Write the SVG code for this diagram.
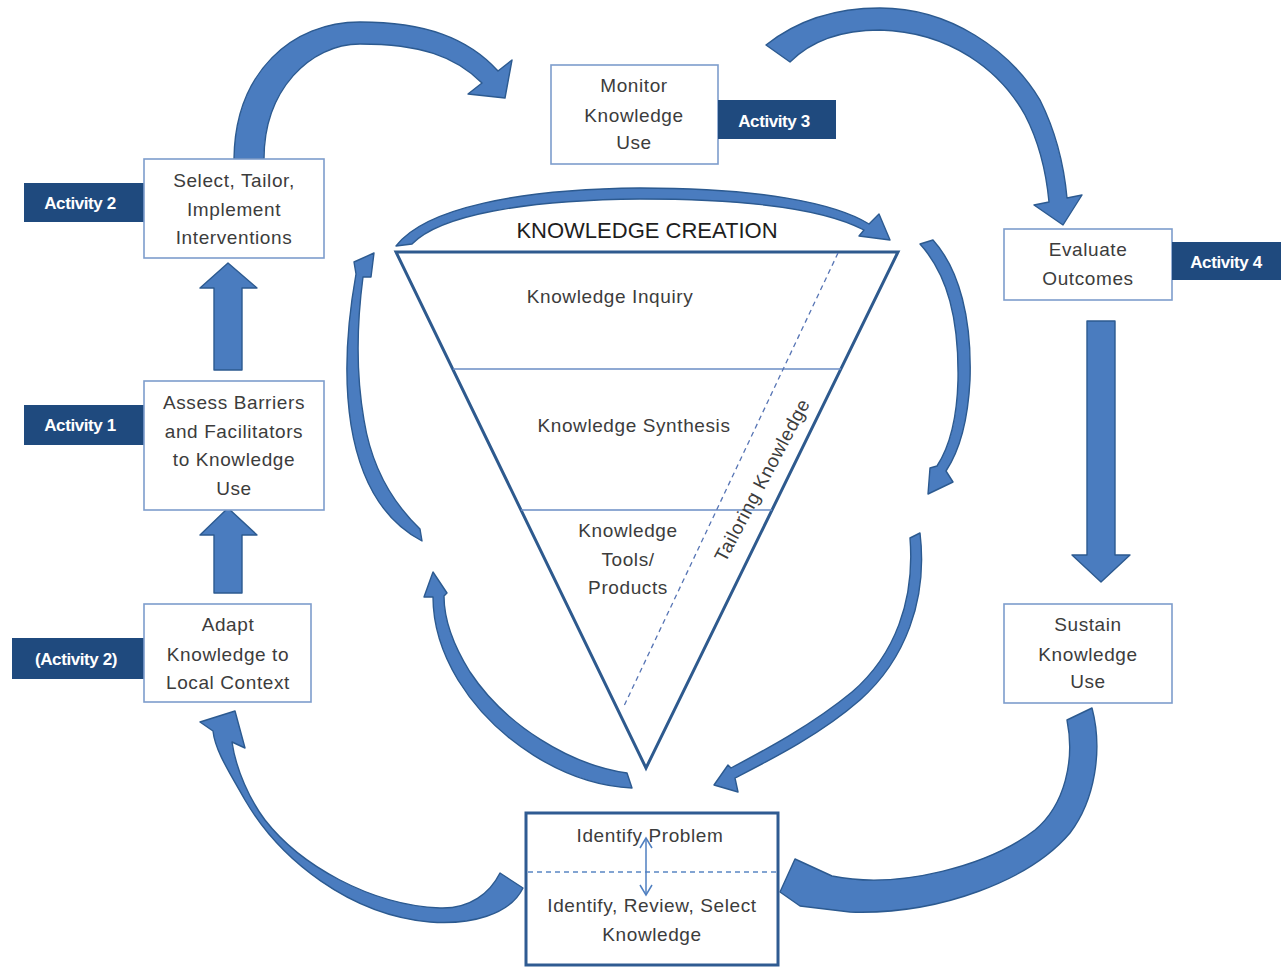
<svg xmlns="http://www.w3.org/2000/svg" width="1281" height="968" viewBox="0 0 1281 968">
<defs>
<style>
.bg{fill:#ffffff}
.box{fill:#ffffff;stroke:#7d9dcc;stroke-width:1.6}
.box2{fill:#ffffff;stroke:#2f5b92;stroke-width:3}
.act{fill:#1f4a7e}
.acttxt{fill:#ffffff;font-family:"Liberation Sans",Arial,sans-serif;font-weight:bold;font-size:17px;letter-spacing:-0.4px;text-anchor:middle}
.txt{fill:#3c3c3c;font-family:"Liberation Sans",Arial,sans-serif;font-size:19px;letter-spacing:0.6px;text-anchor:middle}
.title{fill:#1e1e1e;font-family:"Liberation Sans",Arial,sans-serif;font-size:22px;text-anchor:middle}
.arrow{fill:#4a7cbf;stroke:#2c5a90;stroke-width:1.4;stroke-linejoin:round}
.tri{fill:#ffffff;stroke:#2e5a8e;stroke-width:3;stroke-linejoin:miter}
.band{stroke:#6a8cc4;stroke-width:1.5;fill:none}
.dash{stroke:#5674b4;stroke-width:1.3;fill:none;stroke-dasharray:5 4}
.dbl{stroke:#4f7fc0;stroke-width:1.5;fill:none}
</style>
</defs>
<rect class="bg" x="0" y="0" width="1281" height="968"/>

<g id="connectors">
  <!-- Select -> Monitor -->
  <path class="arrow" d="M234,159 C235,72 292,22 360,22 C425,22 468,38 498,71 L512,60 L505,98 L468,94 L482,83 C455,56 420,44 360,44 C310,44 264,90 264,159 Z"/>
  <!-- Monitor -> Evaluate -->
  <path class="arrow" d="M766,45 C800,18 840,8 880,8 C950,8 1010,50 1040,100 C1055,130 1064,165 1067,198 L1082,195 L1063,225 L1034,205 L1049,202 C1046,170 1038,140 1025,115 C1000,70 950,32 880,30 C840,30 810,42 790,62 Z"/>
  <!-- Evaluate -> Sustain -->
  <path class="arrow" d="M1087,321 L1115,321 L1115,555 L1130,555 L1101,582 L1072,555 L1087,555 Z"/>
  <!-- Sustain -> Identify -->
  <path class="arrow" d="M1067,720 L1092,708 C1103,750 1095,800 1070,833 C1030,880 940,915 850,912 L800,906 L780,892 L795,859 L832,876 C900,890 990,865 1035,830 C1065,805 1075,760 1067,720 Z"/>
  <!-- Identify -> Adapt -->
  <path class="arrow" d="M500,873 L523,888 C510,915 470,925 430,922 C350,915 280,860 245,800 C228,770 215,750 213,731 L200,722 L235,711 L245,748 L232,742 C236,770 250,800 265,820 C300,865 370,905 440,908 C470,909 490,893 500,873 Z"/>
  <!-- Adapt -> Assess -->
  <path class="arrow" d="M214,593 L242,593 L242,535 L257,535 L228,508 L200,535 L214,535 Z"/>
  <!-- Assess -> Select -->
  <path class="arrow" d="M214,370 L242,370 L242,288 L257,288 L228,263 L200,288 L214,288 Z"/>

  <!-- inner cycle around knowledge creation -->
  <path class="arrow" d="M396,246 C425,208 520,189 640,188 C760,188 835,203 869,224 L879,214 L890,240 L859,236 L864,230 C830,212 760,199 640,199 C525,200 440,215 412,244 Z"/>
  <path class="arrow" d="M920,244 L933,240 C960,270 972,320 970,380 C968,420 960,450 946,471 L953,482 L928,494 L930,468 L937,466 C950,446 957,420 958,380 C959,320 948,275 920,244 Z"/>
  <path class="arrow" d="M910,538 L920,533 C928,600 905,660 860,700 C820,735 770,760 735,778 L738,792 L714,785 L728,765 L731,768 C765,750 812,725 852,692 C895,655 915,600 910,538 Z"/>
  <path class="arrow" d="M632,788 L627,773 C570,765 505,725 470,672 C450,640 444,615 444,596 L447,593 L433,572 L424,597 L433,597 C433,620 440,650 458,680 C495,740 565,785 632,788 Z"/>
  <path class="arrow" d="M422,541 L420,529 C395,505 372,470 364,420 C357,380 356,330 363,277 L371,277 L374,253 L354,262 L356,274 C346,330 344,380 351,425 C360,480 382,520 422,541 Z"/>
</g>

<g id="knowledge-creation">
  <polygon class="tri" points="396,252 898,252 646,768"/>
  <line class="band" x1="453" y1="369" x2="841" y2="369"/>
  <line class="band" x1="521" y1="510" x2="772" y2="510"/>
  <line class="dash" x1="838" y1="253" x2="624" y2="706"/>
  <text class="title" x="647" y="238">KNOWLEDGE CREATION</text>
  <text class="txt" x="610" y="303">Knowledge Inquiry</text>
  <text class="txt" x="634" y="432">Knowledge Synthesis</text>
  <text class="txt" x="628" y="537">Knowledge</text>
  <text class="txt" x="628" y="566">Tools/</text>
  <text class="txt" x="628" y="594">Products</text>
  <text class="txt" x="0" y="0" dy="0.35em" font-size="20" transform="translate(762,480) rotate(-62)">Tailoring Knowledge</text>
</g>

<g id="node-select">
  <rect class="act" x="24" y="183" width="120" height="39"/>
  <text class="acttxt" x="80" y="209">Activity 2</text>
  <rect class="box" x="144" y="159" width="180" height="99"/>
  <text class="txt" x="234" y="187">Select, Tailor,</text>
  <text class="txt" x="234" y="216">Implement</text>
  <text class="txt" x="234" y="244">Interventions</text>
</g>

<g id="node-assess">
  <rect class="act" x="24" y="405" width="120" height="40"/>
  <text class="acttxt" x="80" y="431">Activity 1</text>
  <rect class="box" x="144" y="381" width="180" height="129"/>
  <text class="txt" x="234" y="409">Assess Barriers</text>
  <text class="txt" x="234" y="438">and Facilitators</text>
  <text class="txt" x="234" y="466">to Knowledge</text>
  <text class="txt" x="234" y="495">Use</text>
</g>

<g id="node-adapt">
  <rect class="act" x="12" y="638" width="132" height="41"/>
  <text class="acttxt" x="76" y="665">(Activity 2)</text>
  <rect class="box" x="144" y="604" width="167" height="98"/>
  <text class="txt" x="228" y="631">Adapt</text>
  <text class="txt" x="228" y="661">Knowledge to</text>
  <text class="txt" x="228" y="689">Local Context</text>
</g>

<g id="node-monitor">
  <rect class="box" x="551" y="65" width="167" height="99"/>
  <text class="txt" x="634" y="92">Monitor</text>
  <text class="txt" x="634" y="122">Knowledge</text>
  <text class="txt" x="634" y="149">Use</text>
  <rect class="act" x="718" y="100" width="118" height="39"/>
  <text class="acttxt" x="774" y="127">Activity 3</text>
</g>

<g id="node-evaluate">
  <rect class="box" x="1004" y="229" width="168" height="71"/>
  <text class="txt" x="1088" y="256">Evaluate</text>
  <text class="txt" x="1088" y="285">Outcomes</text>
  <rect class="act" x="1172" y="242" width="109" height="38"/>
  <text class="acttxt" x="1226" y="268">Activity 4</text>
</g>

<g id="node-sustain">
  <rect class="box" x="1004" y="604" width="168" height="99"/>
  <text class="txt" x="1088" y="631">Sustain</text>
  <text class="txt" x="1088" y="661">Knowledge</text>
  <text class="txt" x="1088" y="688">Use</text>
</g>

<g id="node-identify">
  <rect class="box2" x="526" y="813" width="252" height="152"/>
  <line class="dash" x1="528" y1="872" x2="776" y2="872" style="stroke:#5a86c4"/>
  <text class="txt" x="650" y="842">Identify Problem</text>
  <text class="txt" x="652" y="912">Identify, Review, Select</text>
  <text class="txt" x="652" y="941">Knowledge</text>
  <line class="dbl" x1="646" y1="839" x2="646" y2="894"/>
  <polyline class="dbl" points="640,848 646,838 652,848"/>
  <polyline class="dbl" points="640,885 646,895 652,885"/>
</g>
</svg>
